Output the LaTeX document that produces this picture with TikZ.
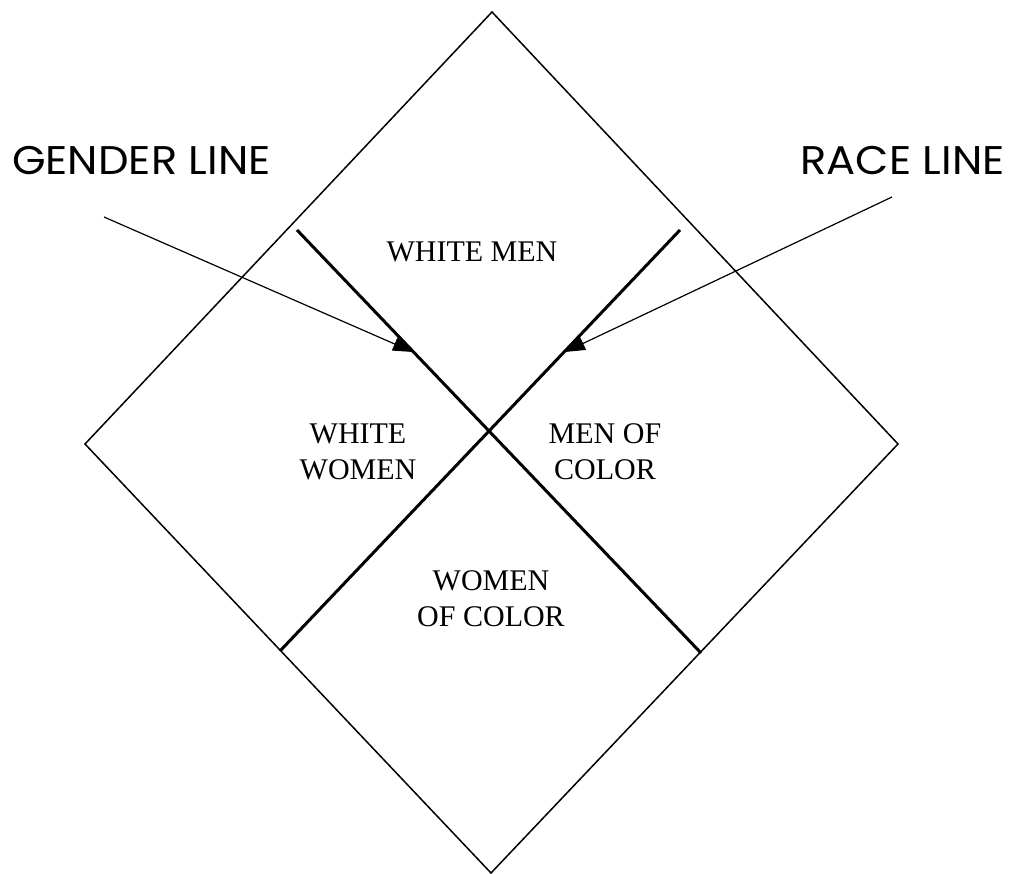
\documentclass[tikz,border=0pt]{standalone}
\usepackage{fontspec}
\setmainfont{Liberation Serif}
\newfontfamily\labelfont{Poppins}
\usetikzlibrary{arrows.meta}
\begin{document}
\begin{tikzpicture}[x=1pt,y=-1pt,
  edge/.style={line width=1.5pt, line join=miter},
  divider/.style={line width=3pt},
  pointer/.style={line width=1.2pt, -{Triangle[length=20pt,width=14pt]}},
  region/.style={font=\fontsize{30}{36}\selectfont, align=center, inner sep=0pt},
  title/.style={font=\labelfont\fontsize{40}{48}\selectfont, inner sep=0pt, xscale=1.08}]
\useasboundingbox (0,0) rectangle (1012,874);
% diamond
\coordinate (top) at (492,12);
\coordinate (right) at (898,444);
\coordinate (bottom) at (491,873);
\coordinate (left) at (85,444);
\draw[edge] (top) -- (right) -- (bottom) -- (left) -- cycle;
% dividing lines
\coordinate (g1) at (297,230);
\coordinate (g2) at (701,653);
\coordinate (r1) at (680,230);
\coordinate (r2) at (280,651);
\draw[divider] (g1) -- (g2);
\draw[divider] (r1) -- (r2);
% titles
\node[title, anchor=west, transform shape] (gender) at (12,161) {GENDER LINE};
\node[title, anchor=east, transform shape] (race) at (1005,161) {RACE LINE};
% pointers
\coordinate (gs) at (104,217);
\coordinate (gt) at (413,352);
\coordinate (rs) at (892,197);
\coordinate (rt) at (565,352);
\draw[pointer] (gs) -- (gt);
\draw[pointer] (rs) -- (rt);
% region labels
\node[region] (wm) at (472,252) {WHITE MEN};
\node[region] (ww) at (358,452) {WHITE\\WOMEN};
\node[region] (mc) at (605,452) {MEN OF\\COLOR};
\node[region] (wc) at (491,599) {WOMEN\\OF COLOR};
\end{tikzpicture}
\end{document}
